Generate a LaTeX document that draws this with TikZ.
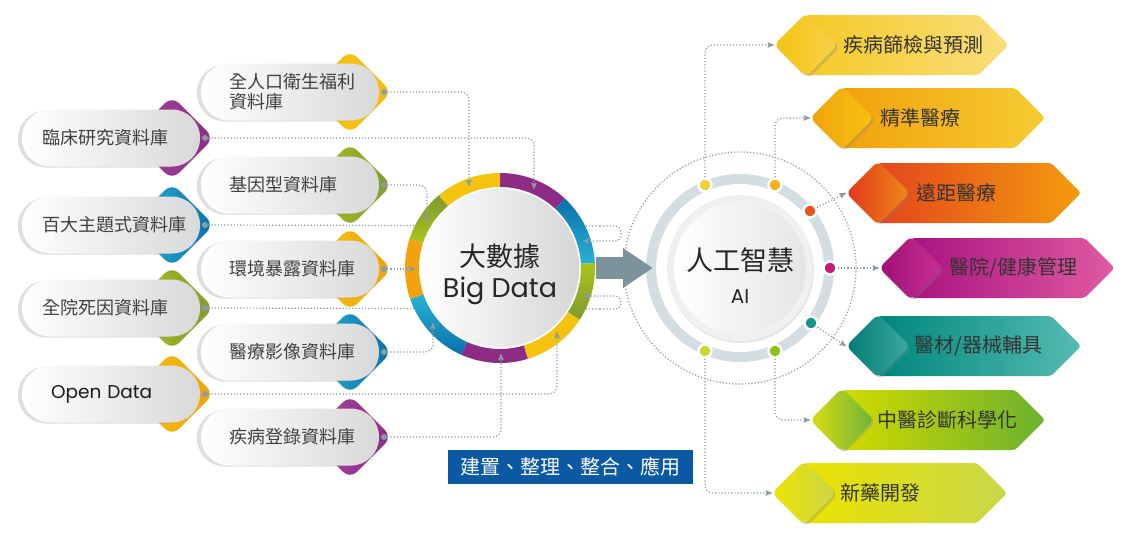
\documentclass[tikz,border=0pt]{standalone}
\usepackage{fontspec}
\newfontfamily\cjk{Noto Sans CJK TC}
\newfontfamily\geo{Poppins}
\usepackage{tikz}
\usetikzlibrary{arrows}
\usetikzlibrary{arrows.meta}
\usetikzlibrary{shadows}
\usetikzlibrary{shapes.geometric}
\usetikzlibrary{shapes.symbols}

\definecolor{linkc}{HTML}{8A9BA5}
\definecolor{inkc}{HTML}{404040}
\definecolor{purp}{HTML}{8E2C85}
\definecolor{purpL}{HTML}{A4449C}
\definecolor{blu}{HTML}{0A70AA}
\definecolor{cya}{HTML}{2AB2D6}
\definecolor{olv}{HTML}{7F9A2E}
\definecolor{lim}{HTML}{A8C41C}
\definecolor{yel}{HTML}{F4C30F}
\definecolor{ora}{HTML}{F1A20C}
\definecolor{ringc}{HTML}{D4DEE2}
\definecolor{slate}{HTML}{7D939C}
\definecolor{navy}{HTML}{0B58A3}
\definecolor{redA}{HTML}{E4461C}
\definecolor{redB}{HTML}{F39C0E}
\definecolor{redC}{HTML}{E0361C}
\definecolor{redD}{HTML}{F18A16}
\definecolor{magA}{HTML}{AA1380}
\definecolor{magB}{HTML}{E05BA2}
\definecolor{magC}{HTML}{9E0F78}
\definecolor{magD}{HTML}{C8308F}
\definecolor{tealA}{HTML}{00877C}
\definecolor{tealB}{HTML}{55BBB2}
\definecolor{tealC}{HTML}{007C73}
\definecolor{tealD}{HTML}{3DA9A0}
\definecolor{grnA}{HTML}{D2DB00}
\definecolor{grnB}{HTML}{6BB12F}
\definecolor{grnC}{HTML}{DADD10}
\definecolor{grnD}{HTML}{6DB33A}
\definecolor{lemA}{HTML}{EAE200}
\definecolor{lemB}{HTML}{C8D84A}
\definecolor{lemC}{HTML}{EDE300}
\definecolor{lemD}{HTML}{C9D64A}
\definecolor{dotA}{HTML}{F5D033}
\definecolor{dotB}{HTML}{F3B31C}
\definecolor{dotC}{HTML}{E8541B}
\definecolor{dotD}{HTML}{C4197F}
\definecolor{dotE}{HTML}{17948A}
\definecolor{dotF}{HTML}{8DC21F}
\definecolor{dotG}{HTML}{C8D92B}

\begin{document}
\begin{tikzpicture}[x=1pt,y=-1pt,
    link/.style={draw=linkc,dotted,line width=1.2pt,rounded corners=8pt},
    linkto/.style={link,->,>=stealth'},
    pill/.style={rectangle,rounded corners=28pt,minimum height=57pt,left color=white,right color=black!15,
      drop shadow={shadow xshift=-4pt,shadow yshift=-1pt,opacity=.25},text=inkc,align=left,
      font=\cjk\fontsize{18}{20}\selectfont},
    pillA/.style={pill,text width=138pt,inner xsep=20pt},
    pillB/.style={pill,text width=122pt,inner xsep=28pt},
    gem/.style={diamond,minimum size=84pt,inner sep=0pt,rounded corners=10pt},
    pin/.style={circle,fill=linkc,minimum size=6pt,inner sep=0pt},
    tag/.style={signal,signal to=east,signal pointer angle=90,minimum width=203pt,minimum height=60pt,
      inner sep=0pt,rounded corners=3pt},
    tagem/.style={diamond,minimum size=64pt,inner sep=0pt,rounded corners=6pt,
      drop shadow={shadow xshift=2pt,shadow yshift=-2pt,opacity=.3}},
    tagtext/.style={anchor=west,inner sep=0pt,text=black!80,font=\cjk\fontsize{20}{24}\selectfont},
    aidot/.style={circle,draw=white,line width=2.5pt,minimum size=13pt,inner sep=0pt,
      drop shadow={shadow xshift=1pt,shadow yshift=-1pt,opacity=.3}}]

  \useasboundingbox (0,0) rectangle (1127,539);
  \fill [white] (0,0) rectangle (1127,539);

  \node [gem,left color=purpL,right color=purp] (clinG) at (172,138) {};
  \node [pillA] (clin) at (111,138) {臨床研究資料庫};
  \node [pin] (clinP) at (205,138) {};

  \node [gem,left color=cya,right color=blu] (topicG) at (172,225) {};
  \node [pillA] (topic) at (111,225) {百大主題式資料庫};
  \node [pin] (topicP) at (205,225) {};

  \node [gem,left color=lim,right color=olv] (deathG) at (172,308) {};
  \node [pillA] (death) at (111,308) {全院死因資料庫};
  \node [pin] (deathP) at (205,308) {};

  \node [gem,left color=yel,right color=ora] (openG) at (172,394) {};
  \node [pillA,text=black!90] (open) at (111,394) {\hspace*{9pt}\geo\fontsize{18.5}{20}\selectfont Open Data};
  \node [pin] (openP) at (205,394) {};

  \node [gem,left color=yel,right color=yel!85!ora] (popG) at (350,92) {};
  \node [pillB] (pop) at (290,92) {全人口衛生福利\\資料庫};
  \node [pin] (popP) at (384,92) {};

  \node [gem,left color=lim,right color=olv] (geneG) at (350,185) {};
  \node [pillB] (gene) at (290,185) {基因型資料庫};
  \node [pin] (geneP) at (384,185) {};

  \node [gem,left color=yel,right color=ora] (envG) at (350,269) {};
  \node [pillB] (env) at (290,269) {環境暴露資料庫};
  \node [pin] (envP) at (384,269) {};

  \node [gem,left color=cya,right color=blu] (imgG) at (350,352) {};
  \node [pillB] (img) at (290,352) {醫療影像資料庫};
  \node [pin] (imgP) at (384,352) {};

  \node [gem,left color=purpL,right color=purp] (regG) at (350,437) {};
  \node [pillB] (reg) at (290,437) {疾病登錄資料庫};
  \node [pin] (regP) at (384,437) {};

  \coordinate (bx1) at (600,226);
  \coordinate (bx2) at (600,309);
  \draw [link] (topicP) -- (bx1);
  \draw [link] (deathP) -- (bx2);

  \node [circle,minimum size=160pt,inner sep=0pt,left color=white,right color=black!16,draw=white,line width=1.5pt,
    align=center,text=black!85,font=\fontsize{27}{31}\selectfont] (bd) at (500,268)
    {\rule{0pt}{36pt}{\cjk 大數據}\\{\geo Big Data}};
  \foreach \a/\b/\c/\d in {-90/-47/purp/purp, -47/-3/blu/cya, -3/33/lim/olv, 33/73/yel/yel, 73/114/purp/purp,
                          114/161/cya/blu, 161/198/ora/ora, 198/230/olv/lim, 230/270/yel/yel}
    \shade [top color=\c,bottom color=\d] ([shift={(\a:95)}]bd.center) arc [start angle=\a,end angle=\b,radius=95]
      -- ([shift={(\b:81)}]bd.center) arc [start angle=\b,end angle=\a,radius=81] -- cycle;

  \coordinate (bdT1) at (469,186);
  \coordinate (bdT2) at (534,189);
  \coordinate (bdT3) at (427,221);
  \coordinate (bdT4) at (415,269);
  \coordinate (bdT5) at (433,323);
  \coordinate (bdT6) at (557,332);
  \coordinate (bdT7) at (501,354);
  \coordinate (bdT8) at (583,241);
  \coordinate (bdT9) at (583,296);

  \draw [linkto] (popP) -| (bdT1);
  \draw [linkto] (clinP) -| (bdT2);
  \draw [linkto] (geneP) -| (bdT3);
  \draw [linkto] (envP) -- (bdT4);
  \draw [linkto] (imgP) -| (bdT5);
  \draw [linkto] (openP) -| (bdT6);
  \draw [linkto] (regP) -| (bdT7);
  \draw [linkto,rounded corners=6pt] (bx1) -- (621,226) -- (621,241) -- (bdT8);
  \draw [linkto,rounded corners=6pt] (bx2) -- (621,309) -- (621,296) -- (bdT9);

  \node [fill=navy,text=white,minimum width=245pt,minimum height=34pt,font=\cjk\fontsize{20}{24}\selectfont]
    (task) at (570,467) {建置、整理、整合、應用};

  \node [tag,left color=yel!90!white,right color=yel!55!white] (r1) at (892,45) {};
  \node [tagem,left color=yel,right color=yel!75!white] (r1G) at (806,45) {};
  \node [tagtext] (r1T) at (843,45) {疾病篩檢與預測};

  \node [tag,left color=ora,right color=yel!85!white] (r2) at (928.5,118) {};
  \node [tagem,left color=ora,right color=yel] (r2G) at (842,118) {};
  \node [tagtext] (r2T) at (880,118) {精準醫療};

  \node [tag,left color=redA,right color=redB] (r3) at (964.5,193) {};
  \node [tagem,left color=redC,right color=redD] (r3G) at (878,193) {};
  \node [tagtext] (r3T) at (916,193) {遠距醫療};

  \node [tag,left color=magA,right color=magB] (r4) at (998,268) {};
  \node [tagem,left color=magC,right color=magD] (r4G) at (911,268) {};
  \node [tagtext] (r4T) at (949,268) {醫院/健康管理};

  \node [tag,left color=tealA,right color=tealB] (r5) at (964.5,346) {};
  \node [tagem,left color=tealC,right color=tealD] (r5G) at (878,346) {};
  \node [tagtext] (r5T) at (914,346) {醫材/器械輔具};

  \node [tag,left color=grnA,right color=grnB] (r6) at (928.5,420) {};
  \node [tagem,left color=grnC,right color=grnD] (r6G) at (842,420) {};
  \node [tagtext] (r6T) at (877,420) {中醫診斷科學化};

  \node [tag,left color=lemA,right color=lemB] (r7) at (890.5,493) {};
  \node [tagem,left color=lemC,right color=lemD] (r7G) at (804,493) {};
  \node [tagtext] (r7T) at (840,493) {新藥開發};

  \node [circle,minimum size=146pt,inner sep=0pt,fill=black!6,
    drop shadow={shadow xshift=1pt,shadow yshift=-2pt,opacity=.2}] (ai) at (740,268) {};
  \draw [linkc,dotted,line width=1.2pt] (ai) circle (116);
  \draw [ringc,line width=10pt] (ai) circle (89);
  \node [circle,minimum size=132pt,inner sep=0pt,left color=white,right color=black!10,
    align=center,text=black!85,font=\fontsize{27}{33}\selectfont] (aiC) at (ai)
    {\rule{0pt}{37pt}{\cjk 人工智慧}\\{\geo\fontsize{20}{24}\selectfont AI}};

  \node [aidot,fill=dotA] (a1) at (705,185) {};
  \node [aidot,fill=dotB] (a2) at (775,185) {};
  \node [aidot,fill=dotC] (a3) at (810,211) {};
  \node [aidot,fill=dotD] (a4) at (830,268) {};
  \node [aidot,fill=dotE] (a5) at (811,323) {};
  \node [aidot,fill=dotF] (a6) at (775,351) {};
  \node [aidot,fill=dotG] (a7) at (705,351) {};

  \draw [slate,line width=22pt,-{Triangle[length=30pt,width=38pt]},shorten <=15pt,shorten >=14pt] (bd) -- (ai);

  \draw [linkto] (a1) |- (r1G.west);
  \draw [linkto] (a2) |- (r2G.west);
  \draw [linkto] (a3) -- (r3G.west);
  \draw [linkto] (a4) -- (r4G.west);
  \draw [linkto] (a5) -- (r5G.west);
  \draw [linkto] (a6) |- (r6G.west);
  \draw [linkto] (a7) |- (r7G.west);

\end{tikzpicture}
\end{document}
